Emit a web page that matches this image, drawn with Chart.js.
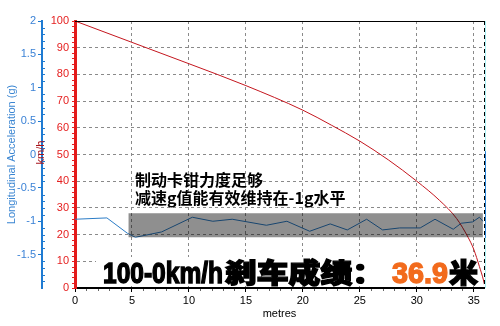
<!DOCTYPE html>
<html><head><meta charset="utf-8">
<script src="https://cdn.jsdelivr.net/npm/chart.js@4"></script>
<style>html,body{margin:0;padding:0;background:#fff}#wrap{width:500px;height:326px;position:relative}</style>
</head><body><div id="wrap"><canvas id="c"></canvas></div>
<script>
// ---- data ----
const accelDist = [0, 2.8, 4.6, 5.3, 7.6, 10.3, 12.1, 13.8, 16.8, 18.6, 20.6, 22.4, 23.9, 25.6, 27.0, 28.5, 30.3, 31.6, 33.2, 33.9, 34.9, 35.5, 35.8];
const accelG    = [-0.97, -0.95, -1.18, -1.24, -1.16, -0.94, -1.00, -0.97, -1.06, -1.00, -1.15, -1.04, -1.13, -0.97, -1.13, -1.10, -1.10, -0.97, -1.12, -1.03, -1.01, -0.94, -1.00];
const speedDist = [0, 5, 10, 15, 20, 22.5, 25, 27.5, 30, 32, 33.5, 34.5, 35, 35.5, 35.85, 36.0];
const speedKmh  = [100, 92, 84, 75.8, 66.6, 61, 55, 48, 40, 32.8, 26, 19, 14.5, 8, 3, 0];
const xTickValues = [0, 5, 10, 15, 20, 25, 30, 35];
const speedTickLabels = [0, 10, 20, 30, 40, 50, 60, 70, 80, 90, 100];
const gTickLabels = [2, 1.5, 1, 0.5, 0, -0.5, -1, -1.5];
const bandDist = [4.7, 35.8];
const bandG = [-0.88, -1.24];
const noteLines = ['制动卡钳力度足够', '减速g值能有效维持在-1g水平'];
const resultParts = ['100-0km/h', '刹车成绩：', '36.9', '米'];
const xTitle = 'metres';
const gTitle = 'Longitudinal Acceleration (g)';
const speedTitle = 'km/h';

Chart.defaults.font.family = "'Liberation Sans', Arial, sans-serif";
Chart.defaults.font.size = 11;

const overlay = {
  id: 'overlay',
  afterDatasetsDraw(chart) {
    const ctx = chart.ctx;
    const {x, y, yG} = chart.scales;
    const ca = chart.chartArea;
    ctx.save();
    // grey band
    const bx0 = x.getPixelForValue(bandDist[0]), bx1 = x.getPixelForValue(bandDist[1]);
    const by0 = yG.getPixelForValue(bandG[0]), by1 = yG.getPixelForValue(bandG[1]);
    ctx.fillStyle = 'rgba(0,0,0,0.44)';
    ctx.fillRect(bx0, by0, bx1 - bx0, by1 - by0);
    // top border
    ctx.strokeStyle = '#000'; ctx.lineWidth = 1;
    ctx.beginPath(); ctx.moveTo(ca.left, Math.round(ca.top) + 0.5); ctx.lineTo(ca.right, Math.round(ca.top) + 0.5); ctx.stroke();
    // right border
    ctx.strokeStyle = '#a8f0f4';
    ctx.beginPath(); ctx.moveTo(Math.round(ca.right) + 1.5, ca.top); ctx.lineTo(Math.round(ca.right) + 1.5, ca.bottom); ctx.stroke();
    ctx.strokeStyle = '#2a86d8';
    ctx.beginPath(); ctx.moveTo(Math.round(ca.right) + 1.5, yG.getPixelForValue(0.05)); ctx.lineTo(Math.round(ca.right) + 1.5, yG.getPixelForValue(-1.25)); ctx.stroke();
    ctx.strokeStyle = '#000'; ctx.setLineDash([4, 3]);
    ctx.beginPath(); ctx.moveTo(Math.round(ca.right) + 0.5, ca.top); ctx.lineTo(Math.round(ca.right) + 0.5, ca.bottom); ctx.stroke();
    ctx.setLineDash([]);
    // notes
    ctx.fillStyle = '#000';
    ctx.font = "bold 16px 'Noto Sans CJK SC', sans-serif";
    ctx.textBaseline = 'middle'; ctx.textAlign = 'left';
    ctx.fillText(noteLines[0], 135, 180);
    ctx.fillText(noteLines[1], 135, 198);
    // result box
    ctx.fillStyle = '#fff';
    ctx.fillRect(96, 257, 380, 29);
    const spans = [[103, 223], [225, 384], [392, 448], [449, 478]];
    const colors = ['#000', '#000', '#f26b1d', '#000'];
    ctx.textBaseline = 'alphabetic';
    resultParts.forEach((t, i) => {
      const cjk = i === 1 || i === 3;
      ctx.font = cjk ? "900 27px 'Noto Sans CJK SC', sans-serif" : "bold 29px 'Liberation Sans', Arial, sans-serif";
      const w = ctx.measureText(t).width;
      const [s0, s1] = spans[i];
      ctx.save();
      ctx.translate(s0, 283);
      ctx.scale((s1 - s0) / w, 1);
      ctx.fillStyle = colors[i]; ctx.strokeStyle = colors[i]; ctx.lineWidth = 1.4;
      ctx.fillText(t, 0, 0);
      ctx.strokeText(t, 0, 0);
      ctx.restore();
    });
    ctx.restore();
  },
  afterDraw(chart) {
    const ctx = chart.ctx;
    const {x, y, yG} = chart.scales;
    ctx.save();
    ctx.lineWidth = 1;
    // minor ticks x
    ctx.strokeStyle = '#666';
    for (let v = 1; v < 36; v++) {
      if (v % 5 === 0) continue;
      const px = Math.round(x.getPixelForValue(v)) + 0.5;
      ctx.beginPath(); ctx.moveTo(px, x.top + 1); ctx.lineTo(px, x.top + 3); ctx.stroke();
    }
    // minor ticks speed
    ctx.strokeStyle = '#e52020';
    for (let v = 2; v < 100; v += 2) {
      if (v % 10 === 0) continue;
      const py = Math.round(y.getPixelForValue(v)) + 0.5;
      ctx.beginPath(); ctx.moveTo(y.right - 3, py); ctx.lineTo(y.right - 1, py); ctx.stroke();
    }
    // minor ticks g
    ctx.strokeStyle = '#1f7bd2';
    for (let k = -19; k < 20; k++) {
      if (k % 5 === 0) continue;
      const py = Math.round(yG.getPixelForValue(k / 10)) + 0.5;
      ctx.beginPath(); ctx.moveTo(yG.right, py); ctx.lineTo(yG.right + 3, py); ctx.stroke();
    }
    // km/h title (overlapping the g axis)
    ctx.translate(41, (chart.chartArea.top + chart.chartArea.bottom) / 2 - 2);
    ctx.rotate(-Math.PI / 2);
    ctx.fillStyle = '#a8141c';
    ctx.font = "11px 'Liberation Sans', Arial, sans-serif";
    ctx.textAlign = 'center'; ctx.textBaseline = 'middle';
    ctx.fillText(speedTitle, 0, 0);
    ctx.restore();
  }
};

new Chart(document.getElementById('c'), {
  type: 'line',
  data: {
    datasets: [
      {
        label: 'Speed',
        data: speedDist.map((d, i) => ({x: d, y: speedKmh[i]})),
        yAxisID: 'y',
        borderColor: '#c4161e', borderWidth: 1, pointRadius: 0,
        cubicInterpolationMode: 'monotone', fill: false
      },
      {
        label: 'Longitudinal Acceleration',
        data: accelDist.map((d, i) => ({x: d, y: accelG[i]})),
        yAxisID: 'yG',
        borderColor: '#2b7cc6', borderWidth: 1, pointRadius: 0,
        tension: 0, fill: false
      }
    ]
  },
  options: {
    responsive: true, maintainAspectRatio: false, animation: false, devicePixelRatio: 1,
    layout: {padding: {top: 21, right: 16, left: 0, bottom: 0}},
    plugins: {legend: {display: false}, tooltip: {enabled: false}},
    scales: {
      x: {
        type: 'linear', position: 'bottom', min: 0, max: 35.9,
        afterBuildTicks: s => { s.ticks = xTickValues.map(v => ({value: v})); },
        afterFit: s => { s.height = 38; },
        ticks: {color: '#000', padding: 2, autoSkip: false, maxRotation: 0, font: {size: 11}, callback: v => String(v)},
        grid: {color: '#8a8a8a', lineWidth: 1, tickLength: 4, tickColor: '#000'},
        border: {color: '#000', width: 2, dash: [3, 3]},
        title: {display: true, text: xTitle, color: '#000', font: {size: 11}, padding: {top: 0, bottom: 5}}
      },
      y: {
        type: 'linear', position: 'left', weight: 0, min: 0, max: 100,
        afterBuildTicks: s => { s.ticks = speedTickLabels.map(v => ({value: v})); },
        afterFit: s => { s.width = 33; },
        ticks: {color: '#e52020', padding: 3, font: {size: 11}, callback: v => String(v)},
        grid: {color: '#8a8a8a', lineWidth: 1, tickLength: 3, tickColor: '#e52020'},
        border: {color: '#e31b1b', width: 3, dash: [3, 3]}
      },
      yG: {
        type: 'linear', position: 'left', weight: 1, min: -2, max: 2,
        afterBuildTicks: s => { s.ticks = gTickLabels.map(v => ({value: v})); },
        afterFit: s => { s.width = 42; },
        ticks: {color: '#3b82d6', padding: 2, font: {size: 11}, callback: v => String(v)},
        grid: {drawOnChartArea: false, tickLength: 4, tickColor: '#1f7bd2'},
        border: {color: '#1f7bd2', width: 2},
        title: {display: true, text: gTitle, color: '#3b86d2', font: {size: 11}, padding: {top: 5, bottom: 0}}
      }
    }
  },
  plugins: [overlay]
});
</script>
</body></html>
